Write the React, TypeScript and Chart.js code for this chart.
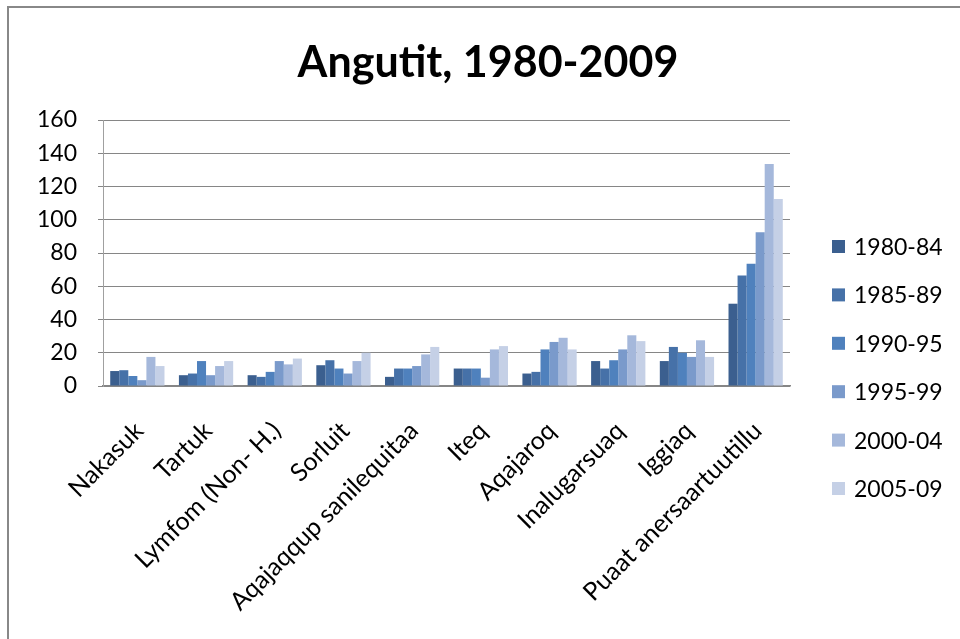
import React, { useEffect, useRef } from "react";
import { Chart, registerables } from "chart.js";

Chart.register(...registerables);

const title = "Angutit, 1980-2009";
const categories = [
  "Nakasuk",
  "Tartuk",
  "Lymfom (Non- H.)",
  "Sorluit",
  "Aqajaqqup sanilequitaa",
  "Iteq",
  "Aqajaroq",
  "Inalugarsuaq",
  "Iggiaq",
  "Puaat anersaartuutillu",
];
const seriesNames = ["1980-84", "1985-89", "1990-95", "1995-99", "2000-04", "2005-09"];
const s1980 = [9, 6.5, 6.5, 12.5, 5.5, 10.5, 7.5, 15, 15, 49.5];
const s1985 = [9.5, 7.5, 5.5, 15.5, 10.5, 10.5, 8.5, 10.5, 23.5, 66.5];
const s1990 = [6, 15, 8.5, 10.5, 10.5, 10.5, 22, 15.5, 20, 73.5];
const s1995 = [3.5, 6.5, 15, 7.5, 12, 5, 26.5, 22, 17.5, 92.5];
const s2000 = [17.5, 12, 13, 15, 19, 22, 29, 30.5, 27.5, 133.5];
const s2005 = [12, 15, 16.5, 20, 23.5, 24, 22, 27, 17.5, 112.5];
const seriesValues = [s1980, s1985, s1990, s1995, s2000, s2005];
const colors = ["#3B5F8F", "#4671A8", "#4F81BD", "#7A9ACB", "#A5B8DB", "#C5D0E6"];
const yMax = 160;
const yStep = 20;

const FONT = "Lato, 'Open Sans', sans-serif";

const titleLegendPlugin = {
  id: "titleLegend",
  afterDraw(chart: any) {
    const ctx = chart.ctx;
    ctx.save();
    ctx.fillStyle = "#000";
    ctx.font = `bold 43px ${FONT}`;
    ctx.textAlign = "center";
    ctx.textBaseline = "alphabetic";
    ctx.fillText(title, 488, 77);
    ctx.font = `23px ${FONT}`;
    ctx.textAlign = "left";
    ctx.textBaseline = "middle";
    chart.data.datasets.forEach((ds: any, i: number) => {
      const cy = 246.5 + i * 48.4;
      ctx.fillStyle = ds.backgroundColor;
      ctx.fillRect(832, cy - 6.5, 13, 13);
      ctx.fillStyle = "#000";
      ctx.fillText(ds.label, 854, cy + 1);
    });
    ctx.restore();
  },
};

export default function App() {
  const ref = useRef<HTMLCanvasElement>(null);
  useEffect(() => {
    if (!ref.current) return;
    const chart = new Chart(ref.current, {
      type: "bar",
      data: {
        labels: categories,
        datasets: seriesNames.map((name, i) => ({
          label: name,
          data: seriesValues[i],
          backgroundColor: colors[i],
          borderWidth: 0,
          barPercentage: 1,
          categoryPercentage: 0.79,
        })),
      },
      options: {
        responsive: false,
        animation: false,
        devicePixelRatio: 1,
        layout: { padding: { top: 120, right: 170, bottom: 0, left: 0 } },
        plugins: {
          legend: { display: false },
          title: { display: false },
          tooltip: { enabled: false },
        },
        scales: {
          x: {
            grid: { display: false, drawTicks: false },
            border: { display: true, color: "#868686", width: 1.5 },
            ticks: {
              color: "#000",
              font: { family: FONT, size: 25 },
              minRotation: 45,
              maxRotation: 45,
              padding: 30,
              labelOffset: 2,
              autoSkip: false,
            },
            afterFit: (scale: any) => {
              scale.height = 253;
            },
          },
          y: {
            min: 0,
            max: yMax,
            grid: { color: "#868686", lineWidth: 1, tickLength: 5 },
            border: { display: true, color: "#A0A0A0", width: 1 },
            ticks: {
              stepSize: yStep,
              color: "#000",
              font: { family: FONT, size: 23 },
              padding: 21,
            },
            afterFit: (scale: any) => {
              scale.width = 103;
            },
          },
        },
      },
      plugins: [titleLegendPlugin],
    });
    return () => chart.destroy();
  }, []);
  return (
    <div style={{ position: "fixed", left: 0, top: 0, width: 960, height: 639, background: "#fff", overflow: "hidden" }}>
      <div
        style={{
          position: "absolute",
          left: 7,
          top: 6,
          width: 1000,
          height: 700,
          borderLeft: "2px solid #888",
          borderTop: "2px solid #888",
        }}
      />
      <canvas ref={ref} width={960} height={639} style={{ position: "absolute", left: 0, top: 0 }} />
    </div>
  );
}
